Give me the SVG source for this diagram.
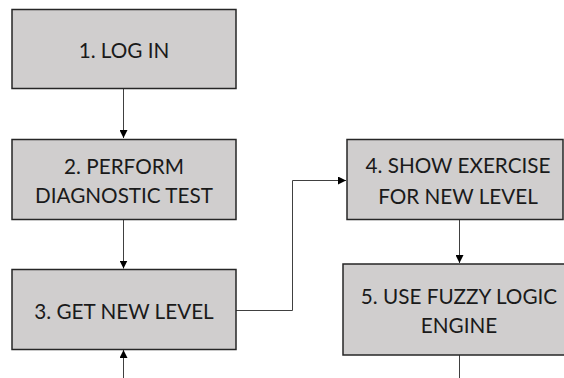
<svg xmlns="http://www.w3.org/2000/svg" width="564" height="378" viewBox="0 0 564 378">
  <style>
    .box { fill: #d0cece; stroke: #262626; stroke-width: 1.5; }
    .lbl { font-family: Lato, "Liberation Sans", Arial, sans-serif; font-size: 20.7px; fill: #1a1a1a; text-anchor: middle; }
    .wire { fill: none; stroke: #404040; stroke-width: 1; }
  </style>
  <defs>
    <marker id="tip" viewBox="0 0 8 8" refX="8" refY="4" markerWidth="8" markerHeight="8" markerUnits="userSpaceOnUse" orient="auto">
      <path d="M0,0 L8,4 L0,8 Z" fill="#000"/>
    </marker>
  </defs>

  <g id="connectors">
    <path class="wire" d="M123.5,89 V138" marker-end="url(#tip)"/>
    <path class="wire" d="M123.5,220 V268.5" marker-end="url(#tip)"/>
    <path class="wire" d="M123.5,378 V350" marker-end="url(#tip)"/>
    <path class="wire" d="M236,310.5 H292.5 V180.5 H346" marker-end="url(#tip)"/>
    <path class="wire" d="M459.5,220 V263" marker-end="url(#tip)"/>
    <path class="wire" d="M459.5,355 V378"/>
  </g>

  <g id="node1">
    <rect class="box" x="12" y="9.5" width="224" height="79"/>
    <text class="lbl" x="124" y="57.5">1. LOG IN</text>
  </g>

  <g id="node2">
    <rect class="box" x="12" y="139.5" width="224" height="80"/>
    <text class="lbl" x="124" y="173.5">2. PERFORM</text>
    <text class="lbl" x="124" y="203">DIAGNOSTIC TEST</text>
  </g>

  <g id="node3">
    <rect class="box" x="12" y="269.5" width="224" height="80"/>
    <text class="lbl" x="124" y="318.5">3. GET NEW LEVEL</text>
  </g>

  <g id="node4">
    <rect class="box" x="347" y="139.5" width="216" height="80"/>
    <text class="lbl" x="458" y="173">4. SHOW EXERCISE</text>
    <text class="lbl" x="458" y="204">FOR NEW LEVEL</text>
  </g>

  <g id="node5">
    <rect class="box" x="343" y="264" width="230" height="91"/>
    <text class="lbl" x="459" y="303.5">5. USE FUZZY LOGIC</text>
    <text class="lbl" x="459" y="333">ENGINE</text>
  </g>
</svg>
